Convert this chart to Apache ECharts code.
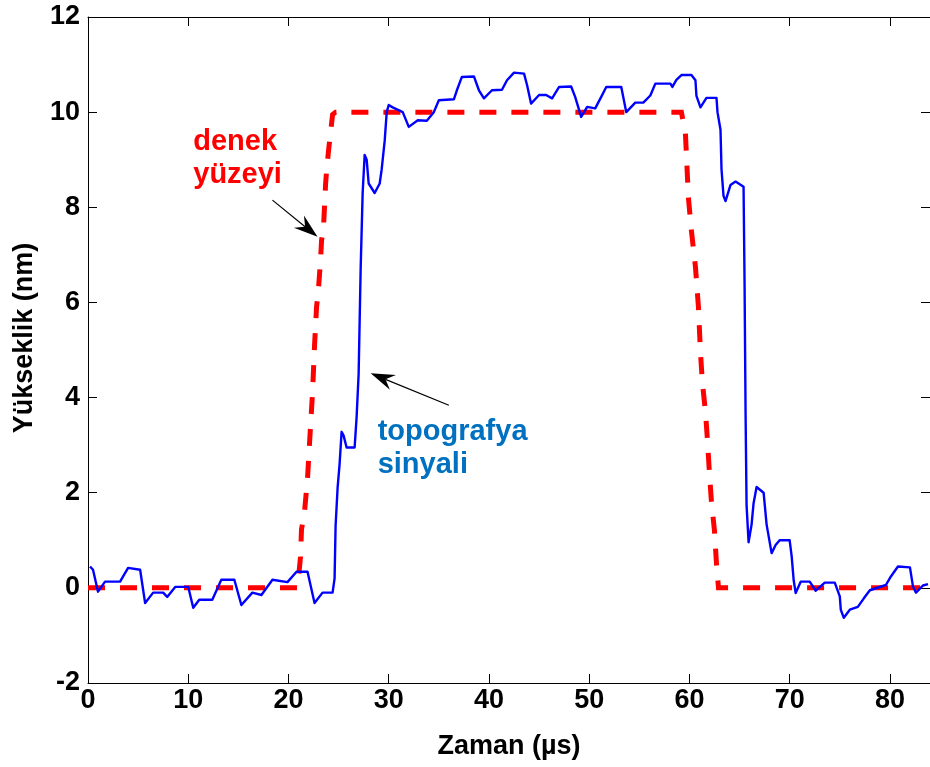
<!DOCTYPE html>
<html>
<head>
<meta charset="utf-8">
<title>Yükseklik - Zaman</title>
<script src="https://cdn.jsdelivr.net/npm/echarts@6/dist/echarts.min.js"></script>
<style>
  html, body { margin: 0; padding: 0; background: #fff; }
  #chart { width: 930px; height: 767px; }
</style>
</head>
<body>
<div id="chart"></div>
<script>
// Zaman (µs) and height (nm) of the measured topography signal
const signalTime = [
  0.2, 0.5, 1.0, 1.7, 3.2, 4.0, 5.2, 5.7, 6.5, 7.5, 7.9, 8.7, 10.0, 10.5, 11.1, 12.4,
  13.3, 14.6, 15.3, 16.4, 17.3, 18.4, 19.9, 20.8, 21.9, 22.6, 23.4, 24.4, 24.6, 24.7,
  24.9, 25.1, 25.3, 25.5, 25.8, 26.6, 26.8, 27.0, 27.2, 27.4, 27.6, 27.8, 28.0, 28.6,
  29.1, 29.3, 29.6, 29.8, 30.0, 30.4, 31.4, 32.0, 32.9, 33.8, 34.5, 35.0, 36.5, 36.8,
  37.3, 38.5, 39.0, 39.5, 40.3, 41.3, 41.8, 42.5, 43.5, 43.8, 44.2, 45.0, 45.7, 46.3,
  47.0, 48.2, 48.6, 49.2, 49.8, 50.6, 51.2, 51.7, 53.2, 53.7, 54.6, 55.4, 56.1, 56.6,
  58.1, 58.3, 58.7, 59.2, 60.2, 60.6, 60.7, 61.1, 61.7, 62.7, 62.8, 63.1, 63.2, 63.4,
  63.6, 64.1, 64.6, 65.4, 65.5, 65.6, 65.7, 65.9, 66.0, 66.2, 66.4, 66.7, 67.4, 67.7,
  68.2, 68.6, 69.0, 70.0, 70.2, 70.4, 70.6, 71.1, 72.0, 72.6, 73.5, 74.5, 75.0, 75.1,
  75.4, 76.0, 76.8, 77.4, 78.0, 79.6, 80.1, 80.8, 82.0, 82.3, 82.6, 83.3, 83.8
];
const signalHeight = [
  0.45, 0.38, -0.08, 0.13, 0.13, 0.42, 0.38, -0.32, -0.10, -0.10, -0.19, 0.02, 0.02, -0.42, -0.25, -0.25,
  0.17, 0.17, -0.36, -0.10, -0.15, 0.17, 0.12, 0.34, 0.34, -0.32, -0.10, -0.10, 0.20, 1.3,
  2.1, 2.6, 3.28, 3.2, 2.95, 2.95, 3.6, 4.5, 6.7, 8.3, 9.1, 9.0, 8.5, 8.3,
  8.5, 8.8, 9.4, 10.0, 10.15, 10.1, 10.0, 9.69, 9.83, 9.82, 10.0, 10.25, 10.27, 10.46,
  10.74, 10.75, 10.46, 10.29, 10.46, 10.47, 10.67, 10.83, 10.81, 10.57, 10.18, 10.36, 10.36, 10.29,
  10.53, 10.54, 10.32, 9.9, 10.11, 10.08, 10.32, 10.53, 10.53, 10.0, 10.2, 10.2, 10.35, 10.6,
  10.6, 10.53, 10.68, 10.78, 10.78, 10.67, 10.34, 10.1, 10.3, 10.3, 10.0, 9.63, 8.8, 8.24,
  8.13, 8.47, 8.54, 8.43, 6.41, 3.68, 1.74, 0.96, 0.97, 1.33, 1.78, 2.12, 2.0, 1.33,
  0.73, 0.9, 1.0, 1.0, 0.66, 0.16, -0.11, 0.13, 0.13, -0.06, 0.11, 0.11, -0.18, -0.46,
  -0.63, -0.46, -0.40, -0.22, -0.05, 0.06, 0.24, 0.45, 0.43, 0.03, -0.10, 0.05, 0.08
];

// Sample surface profile (denek yüzeyi)
const surfaceTime = [
  0, 20.9, 21.2, 21.3, 21.6, 21.9, 22.2, 22.4, 22.6, 22.8, 23.0, 23.2, 23.3, 23.5, 23.7,
  23.8, 24.0, 24.2, 24.4, 24.7, 59.2, 59.6, 59.9, 60.2, 60.6, 60.9, 61.1, 61.3, 61.6,
  61.8, 62.0, 62.2, 62.5, 62.7, 62.9, 84
];
const surfaceHeight = [
  0, 0, 0.65, 1.23, 1.6, 2.3, 3.4, 4.1, 5.1, 5.9, 6.3, 6.9, 7.3, 7.6, 8.48,
  8.77, 9.2, 9.57, 9.95, 10, 10, 9.55, 8.2, 7.5, 6.75, 5.9, 4.95, 4.3, 3.7,
  3.1, 2.4, 1.8, 1.2, 0.5, 0, 0
];

// Axis ranges and tick spacing
const xRange = [0, 84];
const xStep = 10;
const yRange = [-2, 12];
const yStep = 2;

// Text
const xTitle = 'Zaman (µs)';
const yTitle = 'Yükseklik (nm)';
const surfaceNote = ['denek', 'yüzeyi'];
const signalNote = ['topografya', 'sinyali'];

// Annotation anchors in data units: text corner, arrow tail, arrow tip
const surfaceNoteAt = [10.5, 9.72];
const surfaceArrow = [[18.4, 8.15], [22.9, 7.38]];
const signalNoteAt = [28.9, 3.62];
const signalArrow = [[36.0, 3.84], [28.2, 4.51]];

const FONT = '"Liberation Sans", Arial, Helvetica, sans-serif';
const zip = (a, b) => a.map((v, i) => [v, b[i]]);

const tickStyle = { inside: true, length: 9, lineStyle: { color: '#000', width: 1 } };
const lineStyle = { onZero: false, lineStyle: { color: '#000', width: 1 } };
const labelStyle = {
  color: '#000', fontFamily: FONT, fontWeight: 'bold', fontSize: 27
};

const chart = echarts.init(document.getElementById('chart'), null, { renderer: 'canvas' });

chart.setOption({
  backgroundColor: '#fff',
  animation: false,
  grid: { left: 88, top: 17, right: 0, bottom: 84, containLabel: false },
  xAxis: [
    {
      type: 'value', min: xRange[0], max: xRange[1], interval: xStep,
      axisLine: lineStyle, axisTick: tickStyle, splitLine: { show: false },
      axisLabel: Object.assign({ margin: 4, showMaxLabel: false }, labelStyle),
      name: xTitle, nameLocation: 'middle', nameGap: 50,
      nameTextStyle: Object.assign({}, labelStyle, { fontSize: 27 })
    },
    {
      type: 'value', position: 'top', min: xRange[0], max: xRange[1], interval: xStep,
      axisLine: lineStyle, axisTick: tickStyle, splitLine: { show: false },
      axisLabel: { show: false }
    }
  ],
  yAxis: [
    {
      type: 'value', min: yRange[0], max: yRange[1], interval: yStep,
      axisLine: lineStyle, axisTick: tickStyle, splitLine: { show: false },
      axisLabel: Object.assign({ margin: 8 }, labelStyle)
    },
    {
      type: 'value', position: 'right', min: yRange[0], max: yRange[1], interval: yStep,
      axisLine: lineStyle, axisTick: tickStyle, splitLine: { show: false },
      axisLabel: { show: false }
    }
  ],
  series: [
    {
      name: 'denek yüzeyi', type: 'line', showSymbol: false, symbol: 'none',
      data: zip(surfaceTime, surfaceHeight),
      lineStyle: { color: '#ff0000', width: 5, type: [17, 15], cap: 'butt', join: 'miter' },
      z: 2
    },
    {
      name: 'topografya sinyali', type: 'line', showSymbol: false, symbol: 'none',
      data: zip(signalTime, signalHeight),
      lineStyle: { color: '#0000ff', width: 2.4, join: 'round' },
      z: 3
    }
  ]
});

// Annotations: positioned from data coordinates
const toPx = (p) => chart.convertToPixel({ xAxisIndex: 0, yAxisIndex: 0 }, p);

function arrow(tail, tip) {
  const a = toPx(tail), b = toPx(tip);
  const dx = b[0] - a[0], dy = b[1] - a[1];
  const len = Math.hypot(dx, dy);
  const ux = dx / len, uy = dy / len, nx = -uy, ny = ux;
  const headLen = 24, halfW = 8, notch = 8;
  const base = [b[0] - ux * headLen, b[1] - uy * headLen];
  const inner = [b[0] - ux * (headLen - notch), b[1] - uy * (headLen - notch)];
  return [
    {
      type: 'line', silent: true, z: 10,
      shape: { x1: a[0], y1: a[1], x2: inner[0], y2: inner[1] },
      style: { stroke: '#000', lineWidth: 1.2 }
    },
    {
      type: 'polygon', silent: true, z: 10,
      shape: {
        points: [
          b,
          [base[0] + nx * halfW, base[1] + ny * halfW],
          inner,
          [base[0] - nx * halfW, base[1] - ny * halfW]
        ]
      },
      style: { fill: '#000' }
    }
  ];
}

function note(lines, at, color) {
  const p = toPx(at);
  return {
    type: 'text', silent: true, z: 10, x: p[0], y: p[1],
    style: {
      text: lines.join('\n'), fill: color, font: 'bold 29px ' + FONT,
      lineHeight: 33, align: 'left', verticalAlign: 'top'
    }
  };
}

const gridRect = chart.getModel().getComponent('grid').coordinateSystem.getRect();

chart.setOption({
  graphic: [
    note(surfaceNote, surfaceNoteAt, '#ff0000'),
    note(signalNote, signalNoteAt, '#0070c0'),
    ...arrow(surfaceArrow[0], surfaceArrow[1]),
    ...arrow(signalArrow[0], signalArrow[1]),
    {
      type: 'text', silent: true, x: 25, y: gridRect.y + gridRect.height / 2 - 12,
      rotation: Math.PI / 2,
      style: {
        text: yTitle, fill: '#000', font: 'bold 27px ' + FONT,
        align: 'center', verticalAlign: 'middle'
      }
    }
  ]
});
</script>
</body>
</html>
